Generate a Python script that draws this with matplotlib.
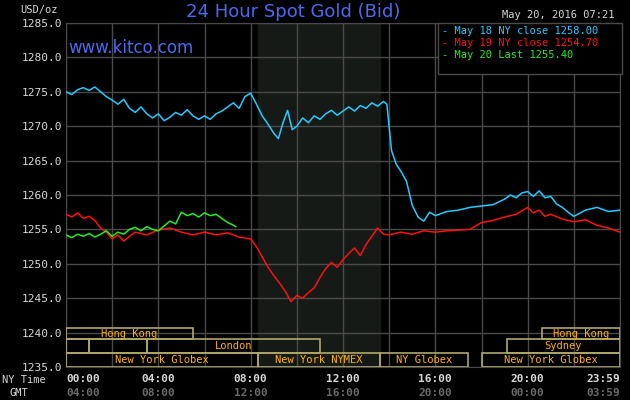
import numpy as np
import matplotlib.pyplot as plt
from matplotlib.patches import Rectangle

# hours since midnight NY time
t_blue = [0, .25, .5, .75, 1, 1.25, 1.5, 1.75, 2, 2.25, 2.5, 2.75, 3, 3.25, 3.5, 3.75, 4, 4.25, 4.5, 4.75,
          5, 5.25, 5.5, 5.75, 6, 6.25, 6.5, 6.75, 7, 7.25, 7.5, 7.75, 8, 8.25, 8.5, 8.75, 9, 9.2, 9.4, 9.6,
          9.8, 10, 10.25, 10.5, 10.75, 11, 11.25, 11.5, 11.75, 12, 12.25, 12.5, 12.75, 13, 13.25, 13.5,
          13.75, 13.9, 14.1, 14.3, 14.5, 14.75, 15, 15.25, 15.5, 15.75, 16, 16.5, 17, 17.5, 18, 18.5,
          19, 19.25, 19.5, 19.75, 20, 20.25, 20.5, 20.75, 21, 21.25, 21.5, 21.75, 22, 22.5, 23, 23.5, 24]
v_blue = [1275.0, 1274.6, 1275.3, 1275.6, 1275.2, 1275.7, 1275.0, 1274.3, 1273.8, 1273.2, 1273.9, 1272.6,
          1272.0, 1272.8, 1271.8, 1271.2, 1271.8, 1270.8, 1271.3, 1272.0, 1271.6, 1272.4, 1271.5, 1271.0,
          1271.5, 1271.0, 1271.8, 1272.2, 1272.8, 1273.4, 1272.6, 1274.3, 1274.8, 1273.2, 1271.5, 1270.3,
          1269.0, 1268.2, 1270.5, 1272.3, 1269.5, 1270.0, 1271.2, 1270.5, 1271.5, 1271.0, 1271.8, 1272.3,
          1271.6, 1272.2, 1272.8, 1272.2, 1273.0, 1272.6, 1273.4, 1272.9, 1273.6, 1273.2, 1266.5, 1264.5,
          1263.5, 1262.0, 1258.5, 1256.8, 1256.2, 1257.5, 1257.0, 1257.6, 1257.8, 1258.2, 1258.4, 1258.6,
          1259.4, 1260.0, 1259.6, 1260.3, 1260.5, 1259.8, 1260.6, 1259.6, 1259.8, 1258.7, 1258.2, 1257.5,
          1256.9, 1257.8, 1258.2, 1257.6, 1257.8]

t_red = [0, .25, .5, .75, 1, 1.25, 1.5, 1.75, 2, 2.25, 2.5, 2.75, 3, 3.5, 4, 4.5, 5, 5.5, 6, 6.5, 7, 7.5,
         8, 8.25, 8.5, 8.75, 9, 9.25, 9.5, 9.75, 10, 10.25, 10.5, 10.75, 11, 11.25, 11.5, 11.75, 12, 12.25,
         12.5, 12.75, 13, 13.25, 13.5, 13.75, 14, 14.5, 15, 15.5, 16, 16.5, 17, 17.5, 18, 18.5, 19, 19.5,
         20, 20.25, 20.5, 20.75, 21, 21.5, 22, 22.5, 23, 23.5, 24]
v_red = [1257.2, 1256.8, 1257.4, 1256.6, 1256.9, 1256.3, 1255.2, 1254.6, 1253.6, 1254.2, 1253.3, 1254.0,
         1254.6, 1254.2, 1254.9, 1255.2, 1254.6, 1254.2, 1254.6, 1254.2, 1254.5, 1253.9, 1253.6, 1252.5,
         1251.0, 1249.5, 1248.3, 1247.2, 1246.0, 1244.5, 1245.4, 1245.0, 1245.8, 1246.5, 1248.0, 1249.3,
         1250.2, 1249.5, 1250.6, 1251.5, 1252.3, 1251.2, 1252.8, 1254.0, 1255.2, 1254.3, 1254.2, 1254.6,
         1254.3, 1254.8, 1254.6, 1254.8, 1254.9, 1255.0, 1256.0, 1256.3, 1256.8, 1257.2, 1258.2, 1257.4,
         1257.8, 1256.9, 1257.2, 1256.5, 1256.1, 1256.4, 1255.6, 1255.2, 1254.6]

t_green = [0, .25, .5, .75, 1, 1.25, 1.5, 1.75, 2, 2.25, 2.5, 2.75, 3, 3.25, 3.5, 3.75, 4, 4.25, 4.5,
           4.75, 5, 5.25, 5.5, 5.75, 6, 6.25, 6.5, 6.75, 7, 7.2, 7.35]
v_green = [1254.2, 1253.8, 1254.3, 1254.0, 1254.4, 1253.9, 1254.3, 1254.8, 1254.0, 1254.6, 1254.3, 1255.0,
           1255.3, 1254.8, 1255.4, 1255.0, 1254.8, 1255.5, 1256.2, 1255.8, 1257.5, 1257.0, 1257.3, 1256.8,
           1257.4, 1257.0, 1257.2, 1256.6, 1256.0, 1255.7, 1255.4]

# (row, start hour, end hour, label)
sessions = [(0, 0, 5.5, 'Hong Kong'), (0, 20.6, 24, 'Hong Kong'),
            (1, 0, 1.0, ''), (1, 1.0, 3.5, ''), (1, 3.5, 11.0, 'London'), (1, 19.1, 24, 'Sydney'),
            (2, 0, 8.33, 'New York Globex'), (2, 8.33, 13.6, 'New York NYMEX'),
            (2, 13.6, 17.4, 'NY Globex'), (2, 18.0, 24, 'New York Globex')]
ny_ticks = ['00:00', '04:00', '08:00', '12:00', '16:00', '20:00', '23:59']
gmt_ticks = ['04:00', '08:00', '12:00', '16:00', '20:00', '00:00', '03:59']

mono = 'DejaVu Sans Mono'
fig = plt.figure(figsize=(6.3, 4), dpi=100, facecolor='black')
ax = fig.add_axes([66/630, 33/400, 554/630, 344/400], facecolor='black')
ax.set_xlim(0, 24)
ax.set_ylim(1235, 1285)
ax.axvspan(8.33, 13.6, color='#161a16', zorder=0)
for h in range(0, 25, 2):
    ax.axvline(h, color='#4a4a4a', lw=1, zorder=1)
for y in range(1235, 1286, 5):
    ax.axhline(y, color='#4a4a4a', lw=1, zorder=1)

rows = [(1239.0, 1240.6), (1237.1, 1239.0), (1235.0, 1237.1)]
for r, s, e, lab in sessions:
    y0, y1 = rows[r]
    ax.add_patch(Rectangle((s, y0), e - s, y1 - y0, fill=False, ec='#b0a868', lw=1.2, zorder=3))
    if lab:
        ax.text((s + e) / 2, (y0 + y1) / 2, lab, color='#ffb400', fontsize=7.5, family=mono,
                ha='center', va='center', zorder=4)

ax.plot(t_blue, v_blue, color='#22ccff', lw=1.1, zorder=5)
ax.plot(t_red, v_red, color='#ff1010', lw=1.1, zorder=5)
ax.plot(t_green, v_green, color='#22ee22', lw=1.1, zorder=5)

for s in ax.spines.values():
    s.set_color('#4a4a4a')
ax.set_xticks([])
ax.set_yticks(range(1235, 1286, 5))
ax.set_yticklabels(['%.1f' % v for v in range(1235, 1286, 5)], family=mono, fontsize=8, color='#d8d8d8')
ax.tick_params(axis='y', length=0, pad=3)

xs = [0, 4, 8, 12, 16, 20, 24]
for x, a, b in zip(xs, ny_ticks, gmt_ticks):
    ha = 'left' if x == 0 else ('right' if x == 24 else 'center')
    ax.text(x, -0.035, a, transform=ax.get_xaxis_transform(), ha=ha, va='center',
            family=mono, fontsize=8, color='#d8d8d8', fontweight='bold')
    ax.text(x, -0.076, b, transform=ax.get_xaxis_transform(), ha=ha, va='center',
            family=mono, fontsize=8, color='#6a6a6a', fontweight='bold')
fig.text(2/630, 1 - 380/400, 'NY Time', family=mono, fontsize=7.5, color='#d8d8d8', va='center')
fig.text(10/630, 1 - 393/400, 'GMT', family=mono, fontsize=7.5, color='#d8d8d8', va='center')

fig.text(20/630, 1 - 10/400, 'USD/oz', family=mono, fontsize=7.5, color='#d8d8d8', va='center')
fig.text(293/630, 1 - 12/400, '24 Hour Spot Gold (Bid)', color='#4a6af0', fontsize=13,
         ha='center', va='center')
fig.text(615/630, 1 - 15/400, 'May 20, 2016 07:21', family=mono, fontsize=7.5, color='#d8d8d8',
         ha='right', va='center')
fig.text(68/630, 1 - 48/400, 'www.kitco.com', color='#4a6af0', fontsize=12, va='center')

fig.add_artist(Rectangle((438/630, 1 - 74/400), 184/630, 51/400, transform=fig.transFigure,
                         fc='black', ec='#4a4a4a', lw=1, zorder=6))
legend = [('May 18 NY close 1258.00', '#22ccff'), ('May 19 NY close 1254.70', '#ff1010'),
          ('May 20 Last 1255.40', '#22ee22')]
for i, (lab, c) in enumerate(legend):
    fig.text(442/630, 1 - (31 + 12 * i)/400, '- ' + lab, family=mono, fontsize=7.5, color=c,
             va='center', zorder=7)

fig.savefig('out.png', facecolor='black')
